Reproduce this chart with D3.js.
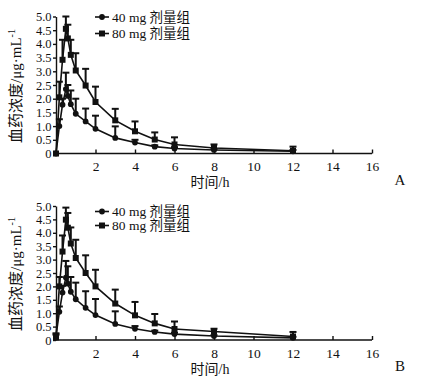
<!DOCTYPE html>
<html>
<head>
<meta charset="utf-8">
<script src="https://cdn.jsdelivr.net/npm/d3@7"></script>
<style>
  body { margin: 0; background: #fff; }
  svg text { font-family: "Liberation Serif", "Noto Sans CJK SC", serif; fill: #111; }
</style>
</head>
<body>
<svg id="chart" width="431" height="387"></svg>
<script>
// sampling times (h)
const times = [0, 0.17, 0.33, 0.5, 0.6, 0.75, 1, 1.5, 2, 3, 4, 5, 6, 8, 12];

// panel A
const meanA40 = [0, 1.0, 1.78, 2.35, 2.1, 1.8, 1.45, 1.17, 0.9, 0.57, 0.4, 0.25, 0.18, 0.13, 0.08];
const sdA40   = [0, 0.25, 0.22, 0.6, 0.4, 0.5, 0.55, 0.47, 0.48, 0.42, 0.1, 0.05, 0.05, 0.03, 0.05];
const meanA80 = [0, 2.05, 3.42, 4.55, 4.2, 3.6, 3.03, 2.48, 1.88, 1.21, 0.81, 0.51, 0.33, 0.2, 0.1];
const sdA80   = [0, 0.57, 0.73, 0.45, 0.5, 0.55, 0.63, 0.61, 0.56, 0.42, 0.36, 0.26, 0.26, 0.13, 0.15];

// panel B
const meanB40 = [0.15, 1.05, 1.77, 2.33, 2.1, 1.8, 1.52, 1.2, 0.93, 0.6, 0.42, 0.3, 0.22, 0.15, 0.08];
const sdB40   = [0.05, 0.2, 0.25, 0.62, 0.65, 0.55, 0.62, 0.62, 0.6, 0.47, 0.1, 0.05, 0.05, 0.03, 0.04];
const meanB80 = [0.1, 2.0, 3.3, 4.49, 4.19, 3.6, 3.06, 2.5, 2.0, 1.36, 0.92, 0.62, 0.41, 0.32, 0.13];
const sdB80   = [0.15, 0.35, 0.6, 0.45, 0.55, 0.6, 0.68, 0.66, 0.62, 0.52, 0.5, 0.35, 0.28, 0.1, 0.17];

const xTicks = [2, 4, 6, 8, 10, 12, 14, 16];
const yTicks = [0, 0.5, 1, 1.5, 2, 2.5, 3, 3.5, 4, 4.5, 5];
const legendLabels = ['40 mg 剂量组', '80 mg 剂量组'];

const svg = d3.select('#chart');

function drawPanel(cfg) {
	let x = d3.scaleLinear().domain([0, 16]).range([cfg.left, cfg.right]);
	let y = d3.scaleLinear().domain([0, 5]).range([cfg.bottom, cfg.top]);
	let g = svg.append('g');

	// axes
	let xAxis = g.append('g')
		.attr('transform', 'translate(0,' + cfg.bottom + ')')
		.call(d3.axisBottom(x).tickValues(xTicks).tickSizeInner(-4).tickSizeOuter(0));
	xAxis.selectAll('text').attr('y', 8).attr('font-size', 13.5);
	xAxis.select('.domain').attr('d', 'M' + cfg.left + ',0H' + cfg.right);

	let yAxis = g.append('g')
		.attr('transform', 'translate(' + cfg.left + ',0)')
		.call(d3.axisLeft(y).tickValues(yTicks).tickSizeInner(3).tickSizeOuter(0).tickPadding(1.5)
			.tickFormat((d) => (d === 0 ? '0' : d.toFixed(1))));
	yAxis.selectAll('text').attr('font-size', 12.5);
	g.selectAll('.domain, .tick line').attr('stroke', '#111').attr('stroke-width', 1.4);

	let series = [
		{ mean: cfg.m40, sd: cfg.s40, shape: 'circle' },
		{ mean: cfg.m80, sd: cfg.s80, shape: 'square' }
	];

	let lineFunc = d3.line().x((o) => x(o.t)).y((o) => y(o.v));

	series.forEach((s) => {
		let pts = times.map((t, i) => ({ t: t, v: s.mean[i], e: s.sd[i] }));
		let sg = g.append('g');

		// error bars (upper only)
		let eb = sg.selectAll('.err').data(pts.filter((o) => o.e > 0)).enter().append('g');
		eb.append('line')
			.attr('x1', (o) => x(o.t)).attr('x2', (o) => x(o.t))
			.attr('y1', (o) => y(o.v)).attr('y2', (o) => y(o.v + o.e))
			.attr('stroke', '#111').attr('stroke-width', 2);
		eb.append('line')
			.attr('x1', (o) => x(o.t) - 3.5).attr('x2', (o) => x(o.t) + 3.5)
			.attr('y1', (o) => y(o.v + o.e)).attr('y2', (o) => y(o.v + o.e))
			.attr('stroke', '#111').attr('stroke-width', 2);

		sg.append('path')
			.attr('d', lineFunc(pts))
			.attr('fill', 'none').attr('stroke', '#111').attr('stroke-width', 1.6);

		if (s.shape === 'circle') {
			sg.selectAll('.pt').data(pts).enter().append('circle')
				.attr('cx', (o) => x(o.t)).attr('cy', (o) => y(o.v)).attr('r', 2.9)
				.attr('fill', '#111');
		} else {
			sg.selectAll('.pt').data(pts).enter().append('rect')
				.attr('x', (o) => x(o.t) - 3).attr('y', (o) => y(o.v) - 3)
				.attr('width', 6).attr('height', 6)
				.attr('fill', '#111');
		}
	});

	// legend
	let lg = g.append('g');
	legendLabels.forEach((lab, i) => {
		let ly = cfg.legendY[i];
		lg.append('line').attr('x1', 95).attr('x2', 109).attr('y1', ly).attr('y2', ly)
			.attr('stroke', '#111').attr('stroke-width', 1.6);
		if (i === 0) {
			lg.append('circle').attr('cx', 102).attr('cy', ly).attr('r', 2.9).attr('fill', '#111');
		} else {
			lg.append('rect').attr('x', 99).attr('y', ly - 3).attr('width', 6).attr('height', 6).attr('fill', '#111');
		}
		lg.append('text').attr('x', 112).attr('y', ly).attr('dy', '0.35em')
			.attr('font-size', 13.5).text(lab);
	});

	// axis titles
	g.append('text')
		.attr('transform', 'translate(21,' + ((cfg.top + cfg.bottom) / 2 + 1) + ') rotate(-90)')
		.attr('text-anchor', 'middle').attr('font-size', 15)
		.html('血药浓度/μg·mL<tspan dy="-6" font-size="10">-1</tspan>');

	g.append('text')
		.attr('x', 210).attr('y', cfg.bottom + 29).attr('dy', '0.35em')
		.attr('text-anchor', 'middle').attr('font-size', 14)
		.text('时间/h');

	g.append('text')
		.attr('x', 400).attr('y', cfg.bottom + 26).attr('dy', '0.35em')
		.attr('text-anchor', 'middle').attr('font-size', 15)
		.text(cfg.tag);
}

drawPanel({ tag: 'A', left: 56, right: 372, top: 16.5, bottom: 153.5,
	m40: meanA40, s40: sdA40, m80: meanA80, s80: sdA80, legendY: [17, 33.5] });
drawPanel({ tag: 'B', left: 56, right: 372, top: 206, bottom: 340,
	m40: meanB40, s40: sdB40, m80: meanB80, s80: sdB80, legendY: [211.5, 225.5] });
</script>
</body>
</html>
